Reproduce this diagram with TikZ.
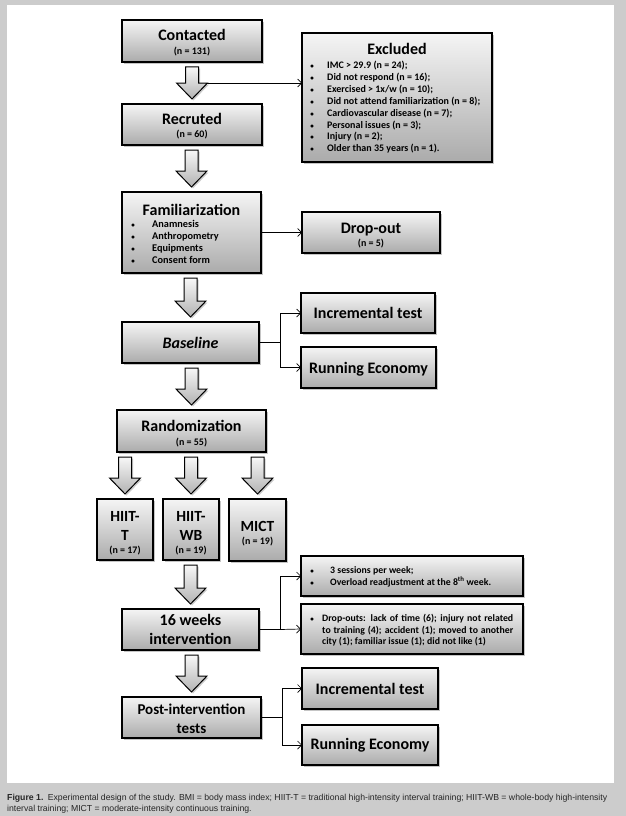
\documentclass[tikz,border=0pt]{standalone}
\usepackage{fontspec}
\setmainfont{Carlito}
\newfontfamily\capfont{Liberation Sans}
\usetikzlibrary{arrows.meta,shadows,calc}
\definecolor{bgc}{HTML}{CCCCCC}
\tikzset{
  box/.style={draw=black, line width=1.4pt, top color=black!4, bottom color=black!33,
    drop shadow={shadow xshift=2pt, shadow yshift=-2pt, fill=black!45},
    inner sep=0pt, outer sep=0pt},
  blkarrow/.style={draw=black, line width=1pt, top color=black!3, bottom color=black!30,
    drop shadow={shadow xshift=1.5pt, shadow yshift=-1.5pt, fill=black!40}},
  conn/.style={draw=black, line width=0.7pt, -{Straight Barb[length=4pt,width=8pt]}},
  plain/.style={draw=black, line width=0.7pt},
  ttl/.style={font=\bfseries\fontsize{16}{19}\selectfont, inner sep=0pt, anchor=base},
  ttm/.style={font=\bfseries\fontsize{16}{19}\selectfont, inner sep=0pt, anchor=base},
  ttp/.style={font=\bfseries\fontsize{15}{18}\selectfont, inner sep=0pt, anchor=base},
  ttb/.style={font=\bfseries\fontsize{15.5}{18}\selectfont, inner sep=0pt, anchor=base},
  nn/.style={font=\bfseries\fontsize{10}{12}\selectfont, inner sep=0pt, anchor=base},
  li/.style={font=\bfseries\fontsize{10}{12}\selectfont, inner sep=0pt, anchor=base west},
  lf/.style={font=\bfseries\fontsize{10.3}{12}\selectfont, inner sep=0pt, anchor=base west},
  ls/.style={font=\bfseries\fontsize{9.8}{12}\selectfont, inner sep=0pt, anchor=base west},
  bul/.style={font=\bfseries\fontsize{7}{9}\selectfont, inner sep=0pt, anchor=base},
}
\newcommand\blk[2]{%
  \draw[blkarrow] let \p1=(#2.north), \p2=(#1.south) in
    (\x1-6.5pt,\y2-5pt) -- (\x1+6.5pt,\y2-5pt) -- (\x1+6.5pt,\y1+21pt) --
    (\x1+15.5pt,\y1+21pt) -- (\x1,\y1+5pt) -- (\x1-15.5pt,\y1+21pt) --
    (\x1-6.5pt,\y1+21pt) -- cycle;}
\begin{document}
\begin{tikzpicture}[x=1pt,y=-1pt]
\useasboundingbox (0,0) rectangle (626,816);
\fill[bgc] (0,0) rectangle (626,816);
\fill[white] (7,5) rectangle (614,783);

% boxes
\node[box, minimum width=140pt, minimum height=42pt] (cont) at (192,41) {};
\node[box, minimum width=140pt, minimum height=41pt] (recr) at (192,124.5) {};
\node[box, minimum width=190pt, minimum height=129pt] (excl) at (397,97.5) {};
\node[box, minimum width=139pt, minimum height=81pt] (fam) at (191.5,232.5) {};
\node[box, minimum width=138pt, minimum height=41pt] (drop) at (371,232.5) {};
\node[box, minimum width=137pt, minimum height=41pt] (bas) at (190.5,342.5) {};
\node[box, minimum width=134pt, minimum height=40pt] (inca) at (368,313) {};
\node[box, minimum width=135pt, minimum height=41pt] (runa) at (368.5,367.5) {};
\node[box, minimum width=149pt, minimum height=42pt] (rand) at (191.5,431) {};
\node[box, minimum width=56pt, minimum height=61pt] (ht) at (125,529.5) {};
\node[box, minimum width=56pt, minimum height=61pt] (hwb) at (191,529.5) {};
\node[box, minimum width=57pt, minimum height=62pt] (mict) at (257.5,530) {};
\node[box, minimum width=222pt, minimum height=40pt] (sess) at (412,576) {};
\node[box, minimum width=222pt, minimum height=50pt] (dout) at (412,629) {};
\node[box, minimum width=137pt, minimum height=41pt] (wk) at (190.5,629.5) {};
\node[box, minimum width=139pt, minimum height=41pt] (post) at (191.5,717.5) {};
\node[box, minimum width=136pt, minimum height=41pt] (incb) at (370,688.5) {};
\node[box, minimum width=136pt, minimum height=40pt] (runb) at (370,745) {};

% block arrows
\blk{cont}{recr}
\blk{recr}{fam}
\blk{fam}{bas}
\blk{bas}{rand}
\blk{rand}{ht}
\blk{rand}{hwb}
\blk{rand}{mict}
\blk{hwb}{wk}
\blk{wk}{post}

% connectors
\coordinate (c1) at (206,83);
\draw[conn] (c1) -- (c1 -| excl.west);
\draw[conn] (fam.east) -- (drop.west);
\draw[plain] (bas.east) -- ++(21,0) coordinate (j1);
\draw[conn] (j1) |- (inca.west);
\draw[conn] (j1) |- (runa.west);
\draw[plain] (wk.east) -- ++(21,0) coordinate (j2);
\draw[conn] (j2) |- (sess.west);
\draw[conn] (j2) -- (dout.west);
\draw[plain] (post.east) -- ++(21,0) coordinate (j3);
\draw[conn] (j3) |- (incb.west);
\draw[conn] (j3) |- (runb.west);

% texts
\node[ttl] (tcont) at (192,41) {Contacted};
\node[nn] (ncont) at (192,54.5) {(n = 131)};
\node[ttl] (trecr) at (192,124) {Recruted};
\node[nn] (nrecr) at (192,137.5) {(n = 60)};
\node[ttl] (texcl) at (397,55) {Excluded};
\foreach \t [count=\i] in {{IMC > 29.9 (n = 24);},{Did not respond (n = 16);},{Exercised > 1x/w (n = 10);},{Did not attend familiarization (n = 8);},{Cardiovascular disease (n = 7);},{Personal issues (n = 3);},{Injury (n = 2);},{Older than 35 years (n = 1).}}{
  \node[bul] (eb\i) at (312,{69+11.8*(\i-1)}) {\textbullet};
  \node[li] (et\i) at (327,{69+11.8*(\i-1)}) {\t};
}
\node[ttl] (tfam) at (191.5,215) {Familiarization};
\foreach \t [count=\i] in {Anamnesis,Anthropometry,Equipments,Consent form}{
  \node[bul] (fb\i) at (133,{227.5+12*(\i-1)}) {\textbullet};
  \node[lf] (ft\i) at (152,{227.5+12*(\i-1)}) {\t};
}
\node[ttl] (tdrop) at (371,233) {Drop-out};
\node[nn] (ndrop) at (371,246.5) {(n = 5)};
\node[ttm] (tbas) at (190.5,348) {\itshape Baseline};
\node[ttm] (tinca) at (368,318.5) {Incremental test};
\node[ttm] (truna) at (368.5,373) {Running Economy};
\node[ttl] (trand) at (191.5,431) {Randomization};
\node[nn] (nrand) at (191.5,445.5) {(n = 55)};
\node[ttb] (tht1) at (125,521) {HIIT-};
\node[ttb] (tht2) at (125,540) {T};
\node[nn] (nht) at (125,553.5) {(n = 17)};
\node[ttb] (thwb1) at (191,521) {HIIT-};
\node[ttb] (thwb2) at (191,540) {WB};
\node[nn] (nhwb) at (191,553.5) {(n = 19)};
\node[ttb] (tmict) at (257.5,531) {MICT};
\node[nn] (nmict) at (257.5,544) {(n = 19)};
\node[bul] (sb1) at (312,573) {\textbullet};
\node[ls] (st1) at (330,573) {3 sessions per week;};
\node[bul] (sb2) at (312,585) {\textbullet};
\node[ls] (st2) at (330,585) {Overload readjustment at the 8\textsuperscript{th} week.};
\node[bul] (db1) at (312,621) {\textbullet};
\node[ls] (dt1) at (322,621) {\makebox[191pt][s]{Drop-outs: lack of time (6); injury not related}};
\node[ls] (dt2) at (322,633) {\makebox[191pt][s]{to training (4); accident (1); moved to another}};
\node[ls] (dt3) at (322,644.5) {city (1); familiar issue (1); did not like (1)};
\node[ttl] (twk1) at (190.5,625.5) {16 weeks};
\node[ttl] (twk2) at (190.5,644.5) {intervention};
\node[ttp] (tpost1) at (191.5,714) {Post-intervention};
\node[ttp] (tpost2) at (191.5,733) {tests};
\node[ttm] (tincb) at (370,694.5) {Incremental test};
\node[ttm] (trunb) at (370,749.5) {Running Economy};

% caption
\node[anchor=base west, inner sep=0pt, text=black!85, font=\capfont\fontsize{8.7}{10}\selectfont] (cap1) at (7,800)
  {\textbf{Figure 1.}\enspace Experimental design of the study. BMI = body mass index; HIIT-T = traditional high-intensity interval training; HIIT-WB = whole-body high-intensity};
\node[anchor=base west, inner sep=0pt, text=black!85, font=\capfont\fontsize{8.7}{10}\selectfont] (cap2) at (7,811)
  {interval training; MICT = moderate-intensity continuous training.};
\end{tikzpicture}
\end{document}
